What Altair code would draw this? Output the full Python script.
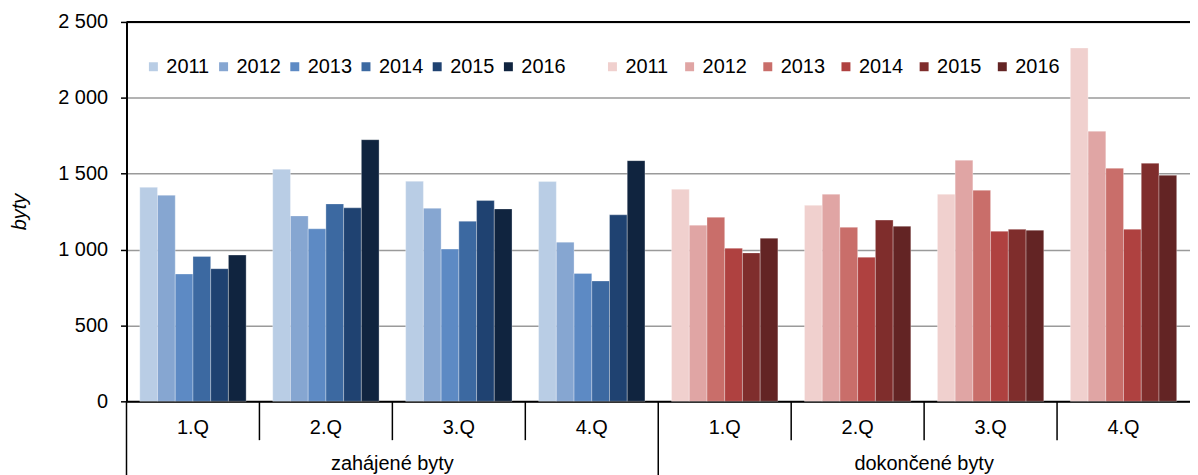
import altair as alt
import pandas as pd

# ---- data ----
years = ["2011", "2012", "2013", "2014", "2015", "2016"]
quarters = ["1.Q", "2.Q", "3.Q", "4.Q"]
sections = ["zahájené byty", "dokončené byty"]

# zahájené byty: one list per quarter, values for 2011..2016
zahajene_1q = [1410, 1358, 839, 955, 874, 964]
zahajene_2q = [1529, 1222, 1137, 1301, 1275, 1724]
zahajene_3q = [1450, 1272, 1003, 1187, 1323, 1268]
zahajene_4q = [1448, 1049, 843, 793, 1229, 1586]

# dokončené byty
dokoncene_1q = [1398, 1161, 1213, 1009, 978, 1075]
dokoncene_2q = [1292, 1365, 1147, 950, 1194, 1154]
dokoncene_3q = [1365, 1589, 1391, 1121, 1134, 1128]
dokoncene_4q = [2328, 1780, 1536, 1134, 1569, 1490]

y_ticks = [0, 500, 1000, 1500, 2000, 2500]

blues = ["#B9CDE5", "#86A6D1", "#5D8AC4", "#3C69A1", "#1F4271", "#10243F"]
reds = ["#F0D0CE", "#E0A5A4", "#C96E6A", "#AF4140", "#7F2D2C", "#632424"]

# ---- build tables ----
def key(sec, q):
    return f"{sec}|{q}"

x_domain = [key(s, q) for s in sections for q in quarters]

def make_rows(sec, lists):
    rows = []
    for q, vals in zip(quarters, lists):
        for y, v in zip(years, vals):
            rows.append({"grp": key(sec, q), "rok": y, "byty": v})
    return pd.DataFrame(rows)

df_z = make_rows(sections[0], [zahajene_1q, zahajene_2q, zahajene_3q, zahajene_4q])
df_d = make_rows(sections[1], [dokoncene_1q, dokoncene_2q, dokoncene_3q, dokoncene_4q])

df_sep_short = pd.DataFrame({"grp": [k for k in x_domain if not k.endswith("|1.Q")]})
df_sep_long = pd.DataFrame({"grp": [key(s, "1.Q") for s in sections]})
df_sec = pd.DataFrame({"grp": [key(s, "2.Q") for s in sections], "label": sections})
df_top = pd.DataFrame({"byty": [y_ticks[-1]]})

W, H = 1068, 381
FONT = "Liberation Sans"

x_scale = alt.Scale(domain=x_domain, paddingInner=0, paddingOuter=0)
y_scale = alt.Scale(domain=[0, 2500], nice=False)
off_scale = alt.Scale(domain=years, paddingInner=0, paddingOuter=0.75)

x_axis = alt.Axis(
    title=None,
    labelExpr="split(datum.value, '|')[1]",
    labelFontSize=20,
    labelFont=FONT,
    labelColor="black",
    labelPadding=16,
    ticks=False,
    domainColor="black",
    domainWidth=2,
    labelAngle=0,
    grid=False,
)

y_axis = alt.Axis(
    title="byty",
    titleFontStyle="italic",
    titleFontWeight="normal",
    titleFontSize=20,
    titleFont=FONT,
    titleColor="black",
    titleX=-107,
    titleY=H / 2,
    titleAngle=270,
    titleAlign="center",
    titleBaseline="middle",
    values=y_ticks,
    labelExpr="replace(format(datum.value, ','), ',', ' ')",
    labelFontSize=20,
    labelFont=FONT,
    labelColor="black",
    labelPadding=13,
    tickSize=6,
    tickColor="black",
    tickWidth=1.5,
    domainColor="black",
    domainWidth=2,
    gridColor="#9a9a9a",
    gridWidth=1.5,
)

X = lambda **kw: alt.X("grp:N", scale=x_scale, axis=x_axis, **kw)
Y = lambda: alt.Y("byty:Q", scale=y_scale, axis=y_axis)

def bars(df, colors, lx, colpad):
    return alt.Chart(df).mark_bar(stroke="white", strokeWidth=0.6, strokeOpacity=0.5).encode(
        x=X(),
        xOffset=alt.XOffset("rok:N", scale=off_scale),
        y=Y(),
        color=alt.Color(
            "rok:N",
            scale=alt.Scale(domain=years, range=colors),
            legend=alt.Legend(
                title=None,
                orient="none",
                direction="horizontal",
                legendX=lx,
                legendY=35,
                padding=0,
                symbolType="square",
                symbolSize=81,
                symbolStrokeWidth=0,
                labelFontSize=20,
                labelFont=FONT,
                labelColor="black",
                labelOffset=3,
                columnPadding=colpad,
            ),
        ),
    )

bars_z = bars(df_z, blues, 17, 3.5)
bars_d = bars(df_d, reds, 478, 10.5)

top_rule = alt.Chart(df_top).mark_rule(color="black", strokeWidth=2).encode(y=Y())

sep_short = alt.Chart(df_sep_short).mark_rule(color="black", strokeWidth=1.5).encode(
    x=X(bandPosition=0),
    y=alt.value(H),
    y2=alt.value(H + 39),
)

sep_long = alt.Chart(df_sep_long).mark_rule(color="black", strokeWidth=1.5).encode(
    x=X(bandPosition=0),
    y=alt.value(H),
    y2=alt.value(H + 80),
)

sec_text = alt.Chart(df_sec).mark_text(
    fontSize=20, font=FONT, color="black", baseline="alphabetic", align="center"
).encode(
    x=X(bandPosition=1),
    y=alt.value(H + 69),
    text="label:N",
)

chart = (
    alt.layer(bars_z, bars_d, top_rule, sep_short, sep_long, sec_text)
    .resolve_scale(color="independent")
    .properties(
        width=W,
        height=H,
        padding={"left": 119, "top": 13, "right": 0, "bottom": 73},
        autosize=alt.AutoSizeParams(type="none"),
    )
    .configure_view(stroke=None)
    .configure(font=FONT)
)

chart.save("out.html", embed_options={"renderer": "svg", "actions": False})
